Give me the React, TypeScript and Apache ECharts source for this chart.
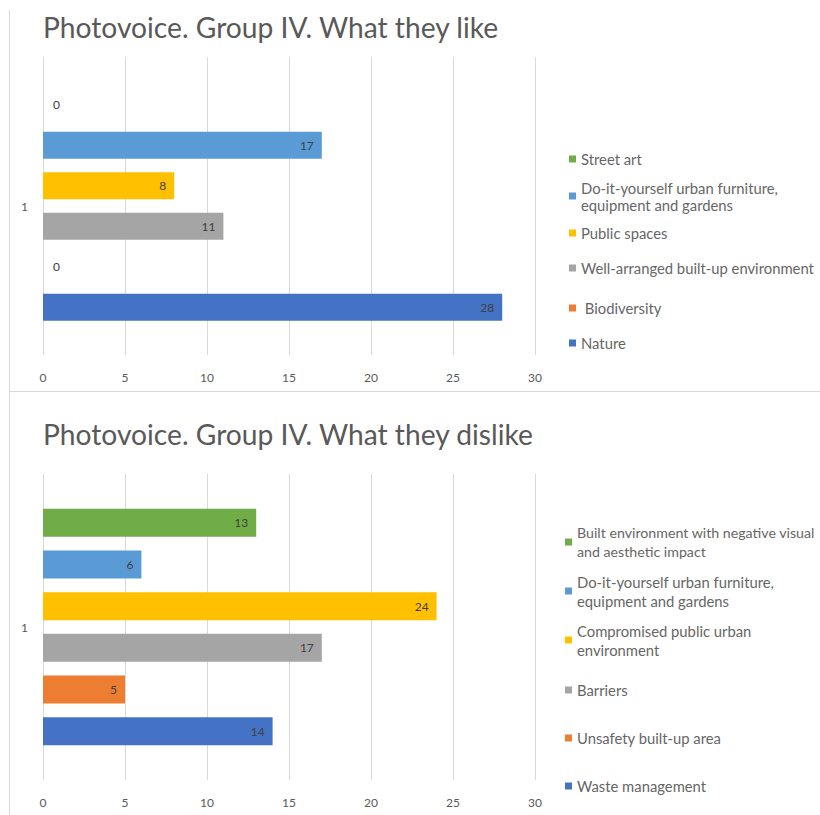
import React, { useEffect, useRef } from "react";
import * as echarts from "echarts";

// ---------- data ----------
const topTitle = "Photovoice. Group IV. What they like";
const bottomTitle = "Photovoice. Group IV. What they dislike";
const categories = ["1"];
const xTicks = { min: 0, max: 30, interval: 5 };

// listed top-to-bottom as in the legend
const likeNames = [
  "Street art",
  "Do-it-yourself urban furniture, equipment and gardens",
  "Public spaces",
  "Well-arranged built-up environment",
  "Biodiversity",
  "Nature",
];
const likeValues = [0, 17, 8, 11, 0, 28];
const likeColors = ["#70AD47", "#5B9BD5", "#FFC000", "#A5A5A5", "#ED7D31", "#4472C4"];

const dislikeNames = [
  "Built environment with negative visual and aesthetic impact",
  "Do-it-yourself urban furniture, equipment and gardens ",
  "Compromised public urban environment",
  "Barriers",
  "Unsafety built-up area",
  "Waste management",
];
const dislikeValues = [13, 6, 24, 17, 5, 14];
const dislikeColors = ["#70AD47", "#5B9BD5", "#FFC000", "#A5A5A5", "#ED7D31", "#4472C4"];

// wrapped legend labels
const legendLabels: Record<string, string> = {
  "Do-it-yourself urban furniture, equipment and gardens": "Do-it-yourself urban furniture,\nequipment and gardens",
  "Do-it-yourself urban furniture, equipment and gardens ": "Do-it-yourself urban furniture,\nequipment and gardens",
  "Built environment with negative visual and aesthetic impact": "Built environment with negative visual\nand aesthetic impact",
  "Compromised public urban environment": "Compromised public urban\nenvironment",
  Biodiversity: " Biodiversity",
};
const likeLegendY = [159, 196, 233, 268, 308, 343];
const dislikeLegendY = [542, 591, 640, 690, 738, 786];
const legendFontSizes: Record<string, number> = {
  "Built environment with negative visual and aesthetic impact": 14.2,
};

const FONT = "Lato";
const GREY = "#595959";

export default function App() {
  const ref = useRef<HTMLDivElement>(null);
  useEffect(() => {
    if (!ref.current) return;
    const chart = echarts.init(ref.current, undefined, { renderer: "svg" });

    const makeSeries = (names: string[], values: number[], colors: string[], idx: number, bw: number, gap: string) =>
      names.map((n, i) => ({
        name: n,
        type: "bar",
        xAxisIndex: idx,
        yAxisIndex: idx,
        barWidth: bw,
        barGap: gap,
        itemStyle: { color: colors[i] },
        label: {
          show: true,
          position: "insideRight",
          distance: 8,
          color: "#404040",
          fontFamily: FONT,
          fontSize: 12,
        },
        data: [values[i]].map((v) =>
          v === 0 ? { value: v, label: { position: "right", distance: 10 } } : v
        ),
      }));

    const makeLegends = (names: string[], ys: number[], left: number, lh: number) =>
      names.map((n, i) => {
        const text = legendLabels[n] ?? n;
        const lines = text.split("\n").length;
        return {
          data: [n],
          left,
          top: ys[i] - ((2 * lines - 1) * lh) / 2,
          orient: "vertical",
          padding: 0,
          itemWidth: 7,
          itemHeight: 7,
          itemGap: 0,
          icon: "rect",
          selectedMode: false,
          formatter: (name: string) => legendLabels[name] ?? name,
          textStyle: {
            fontFamily: FONT,
            fontSize: legendFontSizes[n] ?? 14.8,
            color: "#666666",
            lineHeight: lh,
            padding: [(lines - 1) * lh, 0, 0, 0],
          },
        };
      });

    const xAxisBase = {
      type: "value",
      min: xTicks.min,
      max: xTicks.max,
      interval: xTicks.interval,
      axisLine: { show: false },
      axisTick: { show: false },
      splitLine: { lineStyle: { color: "#d9d9d9" } },
      axisLabel: { color: GREY, fontFamily: FONT, fontSize: 12, margin: 16 },
    };
    const yAxisBase = {
      type: "category",
      data: categories,
      inverse: true,
      axisLine: { show: false },
      axisTick: { show: false },
      axisLabel: { color: GREY, fontFamily: FONT, fontSize: 12, margin: 15 },
    };

    chart.setOption({
      animation: false,
      backgroundColor: "#ffffff",
      title: [
        {
          text: topTitle,
          left: 43,
          top: 13,
          padding: 0,
          textStyle: { fontFamily: FONT, fontSize: 28.2, fontWeight: "normal", color: GREY },
        },
        {
          text: bottomTitle,
          left: 43,
          top: 420,
          padding: 0,
          textStyle: { fontFamily: FONT, fontSize: 28.2, fontWeight: "normal", color: GREY },
        },
      ],
      grid: [
        { left: 43, top: 57, width: 492, height: 298 },
        { left: 43, top: 474, width: 492, height: 306 },
      ],
      xAxis: [
        { ...xAxisBase, gridIndex: 0 },
        { ...xAxisBase, gridIndex: 1 },
      ],
      yAxis: [
        { ...yAxisBase, gridIndex: 0 },
        { ...yAxisBase, gridIndex: 1 },
      ],
      legend: [
        ...makeLegends(likeNames, likeLegendY, 569, 17),
        ...makeLegends(dislikeNames, dislikeLegendY, 565, 19),
      ],
      series: [
        ...makeSeries(likeNames, likeValues, likeColors, 0, 27, "50%"),
        ...makeSeries(dislikeNames, dislikeValues, dislikeColors, 1, 28, "49%"),
      ],
      graphic: [
        { type: "line", shape: { x1: 9.5, y1: 10, x2: 9.5, y2: 815 }, style: { stroke: "#d9d9d9", lineWidth: 1 } },
        { type: "line", shape: { x1: 9, y1: 391.5, x2: 820, y2: 391.5 }, style: { stroke: "#d9d9d9", lineWidth: 1 } },
      ],
    });
    return () => chart.dispose();
  }, []);
  return (
    <div
      ref={ref}
      style={{ position: "fixed", left: 0, top: 0, width: 820, height: 815 }}
    />
  );
}
